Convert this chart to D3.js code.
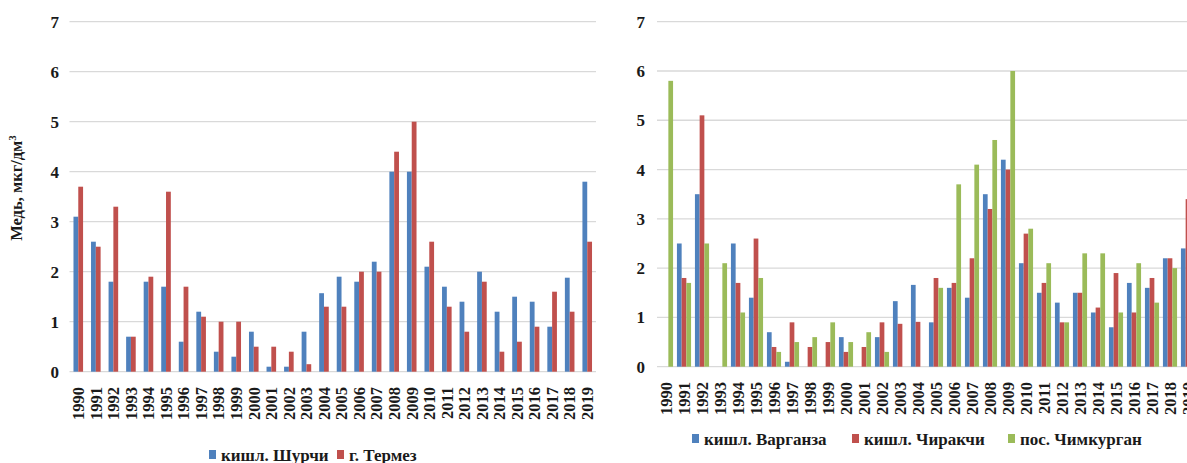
<!DOCTYPE html>
<html>
<head>
<meta charset="utf-8">
<script src="https://cdn.jsdelivr.net/npm/d3@7"></script>
<style>
  html, body { margin: 0; padding: 0; background: #fff; overflow: hidden; }
  svg { display: block; font-family: "Liberation Serif", "Times New Roman", serif; font-weight: bold; }
</style>
</head>
<body>
<div id="chart"></div>
<script>
// Copper concentration, two panels, 1990-2019

const years = d3.range(1990, 2020).map(String);
const yTicks = [0, 1, 2, 3, 4, 5, 6, 7];

// left panel
const leftSeries = ["кишл. Шурчи", "г. Термез"];
const shurchi = [3.1, 2.6, 1.8, 0.7, 1.8, 1.7, 0.6, 1.2, 0.4, 0.3, 0.8, 0.1, 0.1, 0.8, 1.57,
                 1.9, 1.8, 2.2, 4.0, 4.0, 2.1, 1.7, 1.4, 2.0, 1.2, 1.5, 1.4, 0.9, 1.88, 3.8];
const termez  = [3.7, 2.5, 3.3, 0.7, 1.9, 3.6, 1.7, 1.1, 1.0, 1.0, 0.5, 0.5, 0.4, 0.15, 1.3,
                 1.3, 2.0, 2.0, 4.4, 5.0, 2.6, 1.3, 0.8, 1.8, 0.4, 0.6, 0.9, 1.6, 1.2, 2.6];

// right panel
const rightSeries = ["кишл. Варганза", "кишл. Чиракчи", "пос. Чимкурган"];
const varganza  = [0, 2.5, 3.5, 0, 2.5, 1.4, 0.7, 0.1, 0, 0, 0.6, 0, 0.6, 1.33, 1.66,
                   0.9, 1.6, 1.4, 3.5, 4.2, 2.1, 1.5, 1.3, 1.5, 1.1, 0.8, 1.7, 1.6, 2.2, 2.4];
const chirakchi = [0, 1.8, 5.1, 0, 1.7, 2.6, 0.4, 0.9, 0.4, 0.5, 0.3, 0.4, 0.9, 0.87, 0.91,
                   1.8, 1.7, 2.2, 3.2, 4.0, 2.7, 1.7, 0.9, 1.5, 1.2, 1.9, 1.1, 1.8, 2.2, 3.4];
const chimkurgan = [5.8, 1.7, 2.5, 2.1, 1.1, 1.8, 0.3, 0.5, 0.6, 0.9, 0.5, 0.7, 0.3, 0, 0,
                    1.6, 3.7, 4.1, 4.6, 6.0, 2.8, 2.1, 0.9, 2.3, 2.3, 1.1, 2.1, 1.3, 2.0, 2.0];

const COLORS = ["#4F81BD", "#C0504D", "#9BBB59"];
const GRID = "#D9D9D9";

const W = 1187, H = 463;
const svg = d3.select("#chart").append("svg")
  .attr("width", W)
  .attr("height", H);

function drawPanel(cfg){
  const g = svg.append("g");
  const x = d3.scaleBand().domain(years).range(cfg.xRange).padding(0);
  const xs = d3.scaleBand().domain(cfg.names).range([0, x.bandwidth()]).paddingOuter(cfg.outer);
  const y = d3.scaleLinear().domain([0, 7]).range(cfg.yRange);

  // gridlines
  g.append("g").selectAll("line")
    .data(yTicks)
    .join("line")
    .attr("x1", cfg.xRange[0])
    .attr("x2", cfg.xRange[1])
    .attr("y1", d => y(d))
    .attr("y2", d => y(d))
    .attr("stroke", GRID)
    .attr("stroke-width", 1.3);

  // y tick labels
  g.append("g").selectAll("text")
    .data(yTicks)
    .join("text")
    .attr("x", cfg.tickX)
    .attr("y", d => y(d))
    .attr("dy", "0.35em")
    .attr("text-anchor", "end")
    .attr("font-size", 17)
    .attr("fill", "#1a1a1a")
    .text(d => d);

  // bars
  const rows = years.map((yr, i) => ({ yr, vals: cfg.values.map(v => v[i]) }));
  const grp = g.append("g").selectAll("g")
    .data(rows)
    .join("g")
    .attr("transform", d => `translate(${x(d.yr)},0)`);

  grp.selectAll("rect")
    .data(d => d.vals.map((v, k) => ({ name: cfg.names[k], v, k })))
    .join("rect")
    .attr("x", d => xs(d.name))
    .attr("width", xs.bandwidth())
    .attr("y", d => y(d.v))
    .attr("height", d => y(0) - y(d.v))
    .attr("fill", d => COLORS[d.k]);

  // x labels
  g.append("g").selectAll("text")
    .data(years)
    .join("text")
    .attr("transform", d => `translate(${x(d) + x.bandwidth() / 2},${cfg.labelY}) rotate(-90)`)
    .attr("dy", "0.35em")
    .attr("text-anchor", "end")
    .attr("font-size", 16.5)
    .attr("fill", "#1a1a1a")
    .text(d => d);

  // legend
  const leg = g.append("g").selectAll("g")
    .data(cfg.names)
    .join("g")
    .attr("transform", (d, i) => `translate(${cfg.legendX[i]},${cfg.legendY})`);
  leg.append("rect")
    .attr("x", 0)
    .attr("y", -5)
    .attr("width", 7)
    .attr("height", 9)
    .attr("fill", (d, i) => COLORS[i]);
  leg.append("text")
    .attr("x", 12)
    .attr("y", 0)
    .attr("dy", "0.35em")
    .attr("font-size", 17)
    .attr("fill", "#1a1a1a")
    .text(d => d);

  return g;
}

drawPanel({
  names: leftSeries,
  values: [shurchi, termez],
  xRange: [69.5, 596],
  yRange: [371.7, 21.7],
  outer: 0.83,
  tickX: 59,
  labelY: 387,
  legendX: [209, 337],
  legendY: 455
});

drawPanel({
  names: rightSeries,
  values: [varganza, chirakchi, chimkurgan],
  xRange: [657, 1197],
  yRange: [366.7, 21.7],
  outer: 0.41,
  tickX: 645,
  labelY: 382,
  legendX: [692, 852, 1008],
  legendY: 439
});

// y-axis title of the left panel
const title = svg.append("text")
  .attr("transform", "translate(16,188) rotate(-90)")
  .attr("text-anchor", "middle")
  .attr("dy", "0.35em")
  .attr("font-size", 16.5)
  .attr("fill", "#1a1a1a");
title.append("tspan").text("Медь, мкг/дм");
title.append("tspan").attr("baseline-shift", "super").attr("font-size", 11).text("3");
</script>
</body>
</html>
